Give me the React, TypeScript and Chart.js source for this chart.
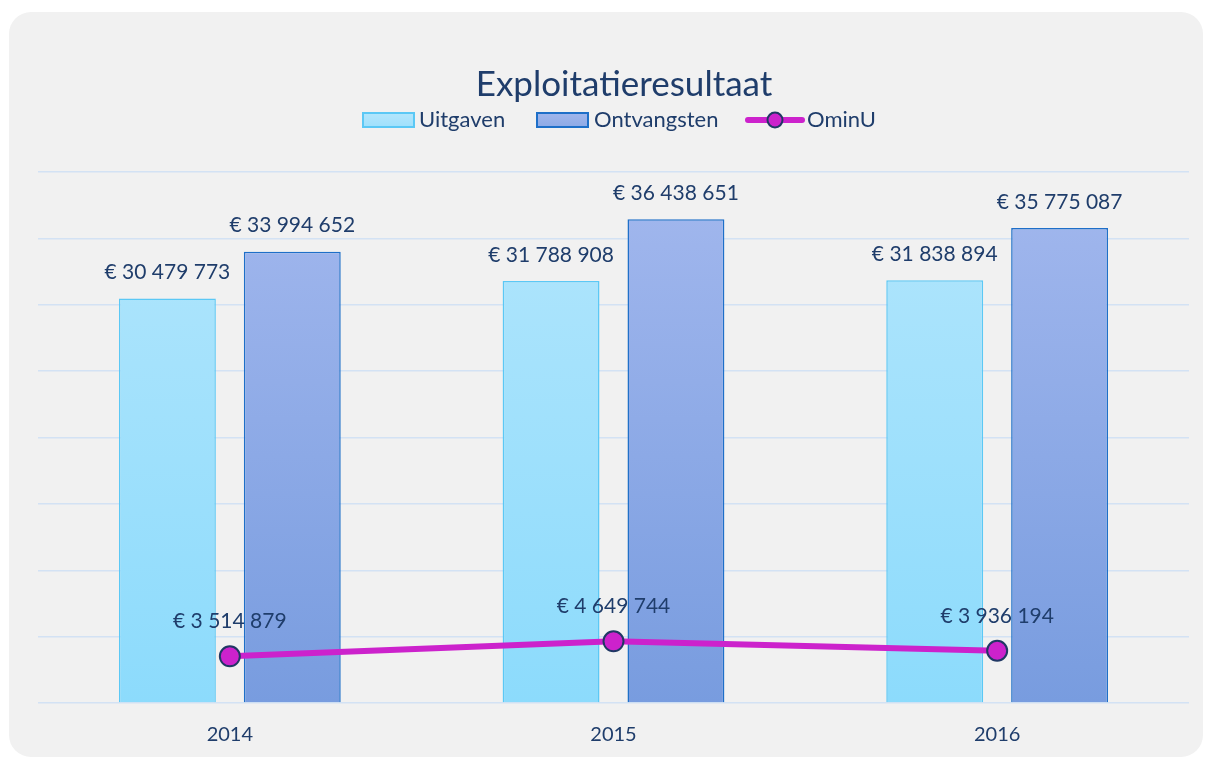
import React, { useEffect, useRef } from 'react';
import { Chart, registerables } from 'chart.js';

Chart.register(...registerables);

const categories = ['2014', '2015', '2016'];
const uitgaven = [30479773, 31788908, 31838894];
const ontvangsten = [33994652, 36438651, 35775087];
const ominU = [3514879, 4649744, 3936194];
const seriesNames = ['Uitgaven', 'Ontvangsten', 'OminU'];
const titleText = 'Exploitatieresultaat';
const yMax = 40000000;
const yStep = 5000000;

const FONT = 'Lato, "Open Sans", sans-serif';
const TEXT = '#1f3d6b';
const LINE = '#cc22cc';
const MARK_BORDER = '#203864';

const fmt = (v: number) => '€ ' + String(Math.round(v)).replace(/\B(?=(\d{3})+(?!\d))/g, ' ');

function grad(chart: any, top: string, bottom: string) {
  const ca = chart.chartArea;
  if (!ca) return top;
  const g = chart.ctx.createLinearGradient(0, ca.top, 0, ca.bottom);
  g.addColorStop(0, top);
  g.addColorStop(1, bottom);
  return g;
}

const decorPlugin = {
  id: 'decor',
  afterDatasetsDraw(chart: any) {
    const ctx = chart.ctx;
    ctx.save();
    ctx.fillStyle = TEXT;
    ctx.font = `21px ${FONT}`;
    ctx.textAlign = 'center';
    ctx.textBaseline = 'middle';
    chart.data.datasets.forEach((ds: any, i: number) => {
      const meta = chart.getDatasetMeta(i);
      meta.data.forEach((el: any, j: number) => {
        const off = ds.type === 'line' ? 35 : 26;
        ctx.fillText(fmt(ds.data[j]), el.x, el.y - off);
      });
    });
    ctx.restore();
  },
  afterDraw(chart: any) {
    const ctx = chart.ctx;
    ctx.save();
    // title
    ctx.fillStyle = TEXT;
    ctx.font = `35px ${FONT}`;
    ctx.textAlign = 'center';
    ctx.textBaseline = 'alphabetic';
    ctx.fillText(titleText, 624, 96);
    // legend
    const ly = 120;
    const base = 127;
    ctx.font = `22px ${FONT}`;
    ctx.textAlign = 'left';
    // Uitgaven
    const g1 = ctx.createLinearGradient(0, 113, 0, 127);
    g1.addColorStop(0, '#b3e6fc');
    g1.addColorStop(1, '#9fe0fc');
    ctx.fillStyle = g1;
    ctx.fillRect(363, 113, 51, 14);
    ctx.strokeStyle = '#5bc8f5';
    ctx.lineWidth = 2;
    ctx.strokeRect(363, 113, 51, 14);
    ctx.fillStyle = TEXT;
    ctx.fillText(seriesNames[0], 419, base);
    // Ontvangsten
    const g2 = ctx.createLinearGradient(0, 113, 0, 127);
    g2.addColorStop(0, '#a0b6ec');
    g2.addColorStop(1, '#8eaae6');
    ctx.fillStyle = g2;
    ctx.fillRect(537, 113, 51, 14);
    ctx.strokeStyle = '#1e6fc8';
    ctx.strokeRect(537, 113, 51, 14);
    ctx.fillStyle = TEXT;
    ctx.fillText(seriesNames[1], 594, base);
    // OminU
    ctx.strokeStyle = LINE;
    ctx.lineWidth = 6;
    ctx.lineCap = 'round';
    ctx.beginPath();
    ctx.moveTo(748, ly);
    ctx.lineTo(802, ly);
    ctx.stroke();
    ctx.beginPath();
    ctx.arc(775, ly, 7.5, 0, Math.PI * 2);
    ctx.fillStyle = LINE;
    ctx.fill();
    ctx.lineWidth = 2;
    ctx.strokeStyle = MARK_BORDER;
    ctx.stroke();
    ctx.fillStyle = TEXT;
    ctx.fillText(seriesNames[2], 807, base);
    ctx.restore();
  },
};

export default function App() {
  const ref = useRef<HTMLCanvasElement>(null);
  useEffect(() => {
    document.body.style.margin = '0';
    const chart = new Chart(ref.current!, {
      type: 'bar',
      data: {
        labels: categories,
        datasets: [
          {
            type: 'line',
            label: seriesNames[2],
            data: ominU,
            borderColor: LINE,
            borderWidth: 6,
            pointRadius: 10,
            pointBackgroundColor: LINE,
            pointBorderColor: MARK_BORDER,
            pointBorderWidth: 2,
            tension: 0,
            order: 0,
          } as any,
          {
            type: 'bar',
            label: seriesNames[0],
            data: uitgaven,
            backgroundColor: (c: any) => grad(c.chart, '#b3e6fc', '#8cdbfc'),
            borderColor: '#5bc8f5',
            borderWidth: 1.5,
            categoryPercentage: 0.651,
            barPercentage: 0.776,
            order: 1,
          },
          {
            type: 'bar',
            label: seriesNames[1],
            data: ontvangsten,
            backgroundColor: (c: any) => grad(c.chart, '#a3b8ee', '#789cdf'),
            borderColor: '#1e6fc8',
            borderWidth: 1.5,
            categoryPercentage: 0.651,
            barPercentage: 0.776,
            order: 1,
          },
        ],
      },
      options: {
        animation: false,
        responsive: false,
        devicePixelRatio: 1,
        layout: { padding: { left: 38, right: 16, top: 172, bottom: 0 } },
        plugins: {
          legend: { display: false },
          title: { display: false },
          tooltip: { enabled: false },
        },
        scales: {
          x: {
            grid: { display: false, drawTicks: false },
            border: { display: false },
            ticks: { color: TEXT, font: { family: FONT, size: 20 }, padding: 20 },
            afterFit: (s: any) => { s.height = 55; },
          },
          y: {
            min: 0,
            max: yMax,
            ticks: { display: false, stepSize: yStep },
            grid: { color: '#d3e2f4', lineWidth: 1.5, drawTicks: false },
            border: { display: false },
            afterFit: (s: any) => { s.width = 0; },
          },
        },
      },
      plugins: [decorPlugin],
    });
    return () => chart.destroy();
  }, []);
  return (
    <div style={{ position: 'relative', width: 1205, height: 758, background: '#fff', overflow: 'hidden' }}>
      <div style={{ position: 'absolute', left: 9, top: 12, width: 1194, height: 745, borderRadius: 22, background: '#f1f1f1' }} />
      <canvas ref={ref} width={1205} height={758} style={{ position: 'absolute', left: 0, top: 0, width: 1205, height: 758 }} />
    </div>
  );
}
